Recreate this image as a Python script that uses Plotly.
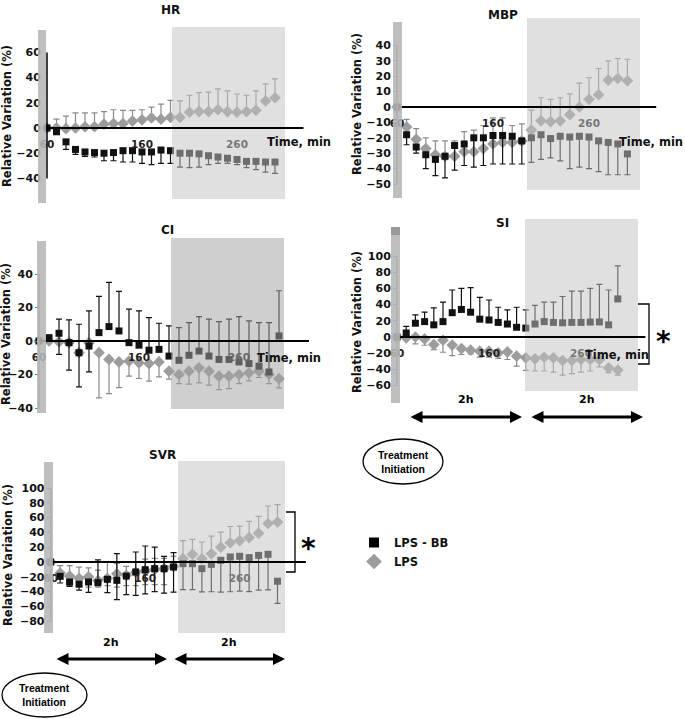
import plotly.graph_objects as go

W, H = 685, 719
FONT = "DejaVu Sans"
ARIAL = "Liberation Sans"

# ---------------- data ----------------
time_min = [60, 70, 80, 90, 100, 110, 120, 130, 140, 150, 160, 170, 180,
            190, 200, 210, 220, 230, 240, 250, 260, 270, 280, 290, 300]
x_tick_vals = [60, 160, 260]
x_tick_text = ["60", "160", "260"]

# HR
hr_bb = [0, -3, -11, -17, -19, -19.5, -20, -19.5, -18, -18, -19, -19, -17.5, -18,
         -20, -20, -20.5, -22, -23, -24, -25, -26.5, -26.5, -27, -27]
hr_bb_up = None
hr_bb_dn = [0, 1, 6, 4, 3.5, 3.5, 6, 6.5, 9, 9, 9, 10, 10.5, 10, 11, 11.5, 10.5,
            7, 5, 4, 4, 5, 6.5, 8, 9]
hr_lps = [0, 0, -0.5, 0, 1, 1, 3, 3.5, 3.5, 5.5, 6.5, 8, 7, 8.5, 8.5, 12.5, 13,
          13, 14.5, 13, 12.5, 13, 14, 21.5, 24]
hr_lps_up = [0, 7, 10, 12, 11, 11, 10, 11, 10.5, 8.5, 8, 8.5, 12, 13.5, 13, 13.5,
             15, 15.5, 16.5, 16.5, 14.5, 13, 15.5, 13.5, 15]
hr_lps_dn = None
hr_yticks = [-40, -20, 0, 20, 40, 60]

# MBP
mbp_bb = [0, -18, -26, -31, -34, -32, -25, -24, -20, -20, -18.5, -18.5, -19, -22,
          -20, -18, -20.5, -19, -19.5, -19, -19.5, -22, -23, -24, -30.5]
mbp_bb_up = None
mbp_bb_dn = [0, 6.5, 4, 9, 10.5, 14, 16, 14, 19, 18, 18.5, 18.5, 18, 15, 16, 16,
             12.5, 16, 20.5, 20, 20.5, 20, 21, 20, 13.5]
mbp_lps = [0, -13, -21, -27, -31, -32, -32, -29, -29, -27, -24, -23, -23, -22, -15,
           -9, -9.5, -9, -5, 0, 5, 8, 17.5, 18.5, 17]
mbp_lps_up = [0, 5, 7, 7, 9, 10, 10, 13, 14, 15, 17, 16, 11, 11, 13, 15, 14.5, 15,
              13.5, 15.5, 14, 17, 12.5, 13, 14]
mbp_lps_dn = None
mbp_yticks = [-50, -40, -30, -20, -10, 0, 10, 20, 30, 40]

# CI
ci_bb = [0, 2, 4.6, -1, -7, -3, 5, 8.6, 6, -1, -2.5, -5.5, -5, -9, -11.5, -8.5, -6,
         -9, -11, -11, -12.5, -13.5, -15, -18.5, 3]
ci_bb_up = [0, 0, 8.4, 13.6, 17, 21, 21.6, 26.4, 23.6, 20, 20.5, 19.5, 15.6, 18,
            19.5, 19.5, 20.6, 22, 22.6, 24, 27.1, 25.5, 26, 29.5, 27]
ci_bb_dn = [0, 0, 12.6, 16.4, 20.4, 15.4, 0, 0, 0, 0, 0, 0, 0, 0, 0, 0, 0, 0, 0,
            0, 0, 0, 0, 0, 0]
ci_lps = [0, 0, -0.5, -1, -7, -1, -7, -11, -12.5, -12, -13, -13.5, -12.5, -18, -20,
          -18, -16, -18, -21, -21, -20, -19, -18, -20, -22.5]
ci_lps_up = None
ci_lps_dn = [0, 0, 0, 0, 0, 0, 27, 20.4, 15.3, 9, 9.4, 10.5, 8.9, 4.8, 5.4, 7.8, 9,
             8.4, 8, 7.4, 5.4, 4.8, 3.8, 5.4, 5.5]
ci_yticks = [-40, -20, 0, 20, 40]

# SI
si_bb = [0, 5, 17, 19, 15, 19, 30, 34, 30.6, 22, 21, 18, 16, 12, 11, 16, 19, 18,
         17.5, 18, 18, 18.4, 18.6, 15, 47]
si_bb_up = [0, 8, 10.3, 11.6, 21, 24, 28, 26, 30.4, 27, 24.7, 18.7, 17.5, 24.7,
            22.5, 23, 24, 25, 32.5, 38.7, 38.7, 41.6, 46.4, 43, 40.8]
si_bb_dn = None
si_lps = [0, -1, 0, -2.4, -9.4, -4, -10, -14.3, -16.3, -17.5, -17.5, -19.6, -18.4,
          -23.7, -25.7, -27, -25, -25.7, -29, -29, -27.8, -27.8, -28, -38, -40.8]
si_lps_up = None
si_lps_dn = [0, 0, 8.6, 7.8, 6.1, 14.8, 12.9, 7.3, 4.5, 7.4, 7.4, 6.9, 9.4, 12.3,
             15.5, 15, 17, 17.6, 18, 16.3, 15.5, 14.2, 9, 6, 6.2]
si_yticks = [-60, -40, -20, 0, 20, 40, 60, 80, 100]

# SVR
svr_bb = [0, -19.4, -27, -30, -27, -28, -23.4, -24.8, -19, -13.5, -10.4, -9, -9,
          -6.8, -2.3, -2.3, -9, -3.2, 2.3, 6.8, 7.7, 5.9, 9, 10.4, -26]
svr_bb_up = [0, 0, 0, 0, 0, 31, 0, 36, 0, 27, 32, 29, 16.6, 19.4, 0, 0, 0, 0, 0,
             0, 0, 0, 0, 0, 0]
svr_bb_dn = [0, 9, 6, 8, 14, 0, 18, 26, 25, 31.5, 32.6, 31, 33, 34, 35, 35, 31.5,
             37, 43, 47, 47, 46, 47, 48, 30]
svr_lps = [0, -15, -19, -22, -20, -25, -22, -16, -18, -14, -12, -10, -9, -6, 4.5,
           10.4, 4.5, 11, 20, 26, 29, 33, 39, 52, 54]
svr_lps_up = [0, 10, 14, 15, 12, 14, 22, 14, 12, 14, 16, 15, 14, 14, 24.5, 20.2,
              22.5, 24, 20.5, 22, 19.6, 22, 22.7, 23.7, 23.5]
svr_lps_dn = [0, 5, 13, 9.5, 14, 9, 10, 18, 14, 18, 18.6, 20.6, 21.6, 0, 0, 0, 0,
              0, 0, 0, 0, 0, 0, 0, 0]
svr_yticks = [-80, -60, -40, -20, 0, 20, 40, 60, 80, 100]


# ---------------- layout helpers ----------------
def fx(px):
    return px / W


def fy(py):
    return 1 - py / H


SHADE = "rgba(195,195,195,0.52)"
SHADE_CI = "rgba(163,163,163,0.52)"
BAR = "rgba(182,182,182,0.88)"

panels = [
    dict(name="HR", n=1, data=(hr_bb, hr_bb_up, hr_bb_dn, hr_lps, hr_lps_up, hr_lps_dn),
         yticks=hr_yticks, x60=47, ppm=0.95, y0=128, ppu=1.26, box=(22, 335, 20, 212),
         shade=(172, 27, 285, 199), shade_col=SHADE, bar=(38, 30, 46, 203),
         yline="black", ytickcol="rgba(0,0,0,0)", title=(170, 10), ytitle=(7, 116),
         timelab=(265, 142)),
    dict(name="MBP", n=2, data=(mbp_bb, mbp_bb_up, mbp_bb_dn, mbp_lps, mbp_lps_up, mbp_lps_dn),
         yticks=mbp_yticks, x60=397, ppm=0.96, y0=107, ppu=1.54, box=(375, 680, 15, 205),
         shade=(527, 18, 640, 190), shade_col=SHADE, bar=(393, 22, 402, 198),
         yline="#777", ytickcol="#777", title=(503, 15), ytitle=(357, 104),
         timelab=(617, 142)),
    dict(name="CI", n=3, data=(ci_bb, ci_bb_up, ci_bb_dn, ci_lps, ci_lps_up, ci_lps_dn),
         yticks=ci_yticks, x60=39, ppm=1.0, y0=341, ppu=1.675, box=(22, 335, 225, 425),
         shade=(171, 238, 284, 409), shade_col=SHADE_CI, bar=(37, 241, 46, 413),
         yline="#777", ytickcol="#777", title=(167, 230), ytitle=(6, 334),
         timelab=(255, 358)),
    dict(name="SI", n=4, data=(si_bb, si_bb_up, si_bb_dn, si_lps, si_lps_up, si_lps_dn),
         yticks=si_yticks, x60=397, ppm=0.92, y0=337, ppu=0.81, box=(375, 680, 212, 405),
         shade=(525, 219, 638, 391), shade_col=SHADE, bar=(391, 227, 400, 403),
         yline="#777", ytickcol="#777", title=(502, 223), ytitle=(357, 322),
         timelab=(583, 355)),
    dict(name="SVR", n=5, data=(svr_bb, svr_bb_up, svr_bb_dn, svr_lps, svr_lps_up, svr_lps_dn),
         yticks=svr_yticks, x60=50.7, ppm=0.945, y0=562, ppu=0.74, box=(22, 335, 450, 645),
         shade=(178, 461, 285, 633), shade_col=SHADE, bar=(44, 462, 53, 633),
         yline="#777", ytickcol="#777", title=(162, 455), ytitle=(8, 555),
         timelab=None),
]

fig = go.Figure()
shapes = []
annotations = []
layout_axes = {}


def zeros_like(vals):
    return [0 for _ in vals]


for p in panels:
    n = p["n"]
    xa = "x" if n == 1 else f"x{n}"
    ya = "y" if n == 1 else f"y{n}"
    bb, bb_up, bb_dn, lps, lps_up, lps_dn = p["data"]

    fig.add_trace(go.Scatter(
        x=time_min, y=lps, mode="markers", xaxis=xa, yaxis=ya, showlegend=False,
        marker=dict(symbol="diamond", size=9, color="#9c9c9c"),
        error_y=dict(type="data", symmetric=False,
                     array=lps_up if lps_up else zeros_like(lps),
                     arrayminus=lps_dn if lps_dn else zeros_like(lps),
                     color="#8a8a8a", thickness=1.2, width=3)))
    fig.add_trace(go.Scatter(
        x=time_min, y=bb, mode="markers", xaxis=xa, yaxis=ya, showlegend=False,
        marker=dict(symbol="square", size=7, color="#111111"),
        error_y=dict(type="data", symmetric=False,
                     array=bb_up if bb_up else zeros_like(bb),
                     arrayminus=bb_dn if bb_dn else zeros_like(bb),
                     color="#111111", thickness=1.2, width=3)))

    L, R, T, B = p["box"]
    x60, ppm, y0, ppu = p["x60"], p["ppm"], p["y0"], p["ppu"]
    xkey = "xaxis" if n == 1 else f"xaxis{n}"
    ykey = "yaxis" if n == 1 else f"yaxis{n}"
    layout_axes[xkey] = dict(
        domain=[fx(L), fx(R)], range=[60 + (L - x60) / ppm, 60 + (R - x60) / ppm],
        anchor="free", position=fy(y0), tickmode="array", tickvals=x_tick_vals,
        ticktext=x_tick_text, showgrid=False, zeroline=False, showline=False,
        ticks="outside", ticklen=6, tickcolor="rgba(0,0,0,0)",
        tickfont=dict(family=FONT, size=10.5, color="#222", weight="bold"))
    layout_axes[ykey] = dict(
        domain=[fy(B), fy(T)], range=[(y0 - B) / ppu, (y0 - T) / ppu],
        anchor="free", position=fx(x60), tickmode="array", tickvals=p["yticks"],
        showgrid=False, zeroline=False, showline=False,
        ticks="outside", ticklen=4, tickcolor=p["ytickcol"], tickwidth=1,
        tickfont=dict(family=FONT, size=11, color="#111", weight="bold"))

    # shaded treatment window overlay
    sx0, sy0, sx1, sy1 = p["shade"]
    shapes.append(dict(type="rect", xref="paper", yref="paper", x0=fx(sx0), x1=fx(sx1),
                       y0=fy(sy1), y1=fy(sy0), fillcolor=p["shade_col"],
                       line=dict(width=0), layer="above"))
    # zero line
    shapes.append(dict(type="line", xref=xa, yref=ya, x0=60, x1=330, y0=0, y1=0,
                       line=dict(color="black", width=2), layer="above"))
    # y axis line
    shapes.append(dict(type="line", xref=xa, yref=ya, x0=60, x1=60,
                       y0=min(p["yticks"]), y1=max(p["yticks"]),
                       line=dict(color=p["yline"], width=1.5), layer="above"))
    # vertical grey bar at treatment initiation
    bx0, by0, bx1, by1 = p["bar"]
    shapes.append(dict(type="rect", xref="paper", yref="paper", x0=fx(bx0), x1=fx(bx1),
                       y0=fy(by1), y1=fy(by0), fillcolor=BAR, line=dict(width=0),
                       layer="above"))

    tx, ty = p["title"]
    annotations.append(dict(text=p["name"], x=fx(tx), y=fy(ty), xref="paper", yref="paper",
                            showarrow=False, xanchor="center", yanchor="middle",
                            font=dict(family=FONT, size=12, color="#111", weight="bold")))
    yx, yy = p["ytitle"]
    annotations.append(dict(text="Relative Variation (%)", x=fx(yx), y=fy(yy),
                            xref="paper", yref="paper", showarrow=False, textangle=-90,
                            xanchor="center", yanchor="middle",
                            font=dict(family=FONT, size=11.5, color="#111", weight="bold")))
    if p["timelab"]:
        lx, ly = p["timelab"]
        annotations.append(dict(text="Time, min", x=fx(lx), y=fy(ly), xref="paper",
                                yref="paper", showarrow=False, xanchor="left",
                                yanchor="middle",
                                font=dict(family=FONT, size=11.5, color="#111", weight="bold")))

# darker cap on SI bar
shapes.append(dict(type="rect", xref="paper", yref="paper", x0=fx(391), x1=fx(400),
                   y0=fy(235), y1=fy(227), fillcolor="rgba(150,150,150,0.9)",
                   line=dict(width=0), layer="above"))

# significance brackets
for (vx, ty0, ty1, tick) in [(649, 304, 364, 11), (295, 512, 572, 9)]:
    shapes.append(dict(type="path", xref="paper", yref="paper",
                       path=f"M {fx(vx - tick)},{fy(ty0)} L {fx(vx)},{fy(ty0)} "
                            f"L {fx(vx)},{fy(ty1)} L {fx(vx - tick)},{fy(ty1)}",
                       line=dict(color="black", width=1.3), layer="above"))
for (sx, sy) in [(663, 341), (308, 548)]:
    annotations.append(dict(text="*", x=fx(sx), y=fy(sy), xref="paper", yref="paper",
                            showarrow=False, xanchor="center", yanchor="middle",
                            font=dict(family=FONT, size=28, color="black", weight="bold")))

# 2h arrows
for (ax0, ax1, ay, tyy) in [(409, 522, 417, 408), (530, 643, 417, 408),
                            (55, 167, 659, 651), (173, 285, 659, 651)]:
    annotations.append(dict(text="", x=fx(ax1), y=fy(ay), xref="paper", yref="paper",
                            ax=-(ax1 - ax0), ay=0, axref="pixel", ayref="pixel",
                            showarrow=True, arrowhead=2, startarrowhead=2,
                            arrowside="end+start", arrowwidth=3, arrowsize=0.8,
                            startarrowsize=0.8, arrowcolor="black", standoff=0,
                            startstandoff=0))
    annotations.append(dict(text="2h", x=fx((ax0 + ax1) / 2), y=fy(tyy), xref="paper",
                            yref="paper", showarrow=False, xanchor="center",
                            yanchor="bottom",
                            font=dict(family=FONT, size=11, color="black", weight="bold")))

# treatment initiation ellipses
for (ex0, ey0, ex1, ey1) in [(363, 439, 443, 484), (2, 673, 87, 717)]:
    shapes.append(dict(type="circle", xref="paper", yref="paper", x0=fx(ex0), x1=fx(ex1),
                       y0=fy(ey1), y1=fy(ey0), line=dict(color="black", width=1.3),
                       layer="above"))
    annotations.append(dict(text="Treatment<br>Initiation", x=fx((ex0 + ex1) / 2),
                            y=fy((ey0 + ey1) / 2), xref="paper", yref="paper",
                            showarrow=False, xanchor="center", yanchor="middle",
                            font=dict(family=ARIAL, size=10.5, color="black", weight="bold")))

# legend entries
fig.add_trace(go.Scatter(x=[None], y=[None], mode="markers", name="LPS - BB",
                         marker=dict(symbol="square", size=10, color="black"),
                         legendrank=1))
fig.add_trace(go.Scatter(x=[None], y=[None], mode="markers", name="LPS",
                         marker=dict(symbol="diamond", size=12, color="#9c9c9c"),
                         legendrank=2))

fig.update_layout(
    width=W, height=H, autosize=False, margin=dict(l=0, r=0, t=0, b=0),
    paper_bgcolor="white", plot_bgcolor="rgba(0,0,0,0)",
    shapes=shapes, annotations=annotations, showlegend=True,
    legend=dict(x=fx(354), y=fy(528), xanchor="left", yanchor="top",
                bgcolor="rgba(0,0,0,0)", tracegroupgap=0,
                font=dict(family=FONT, size=11.5, color="#111", weight="bold")),
    **layout_axes)

fig.write_html("out.html", config={"displayModeBar": False},
               post_script="document.body.style.margin='0px';")
